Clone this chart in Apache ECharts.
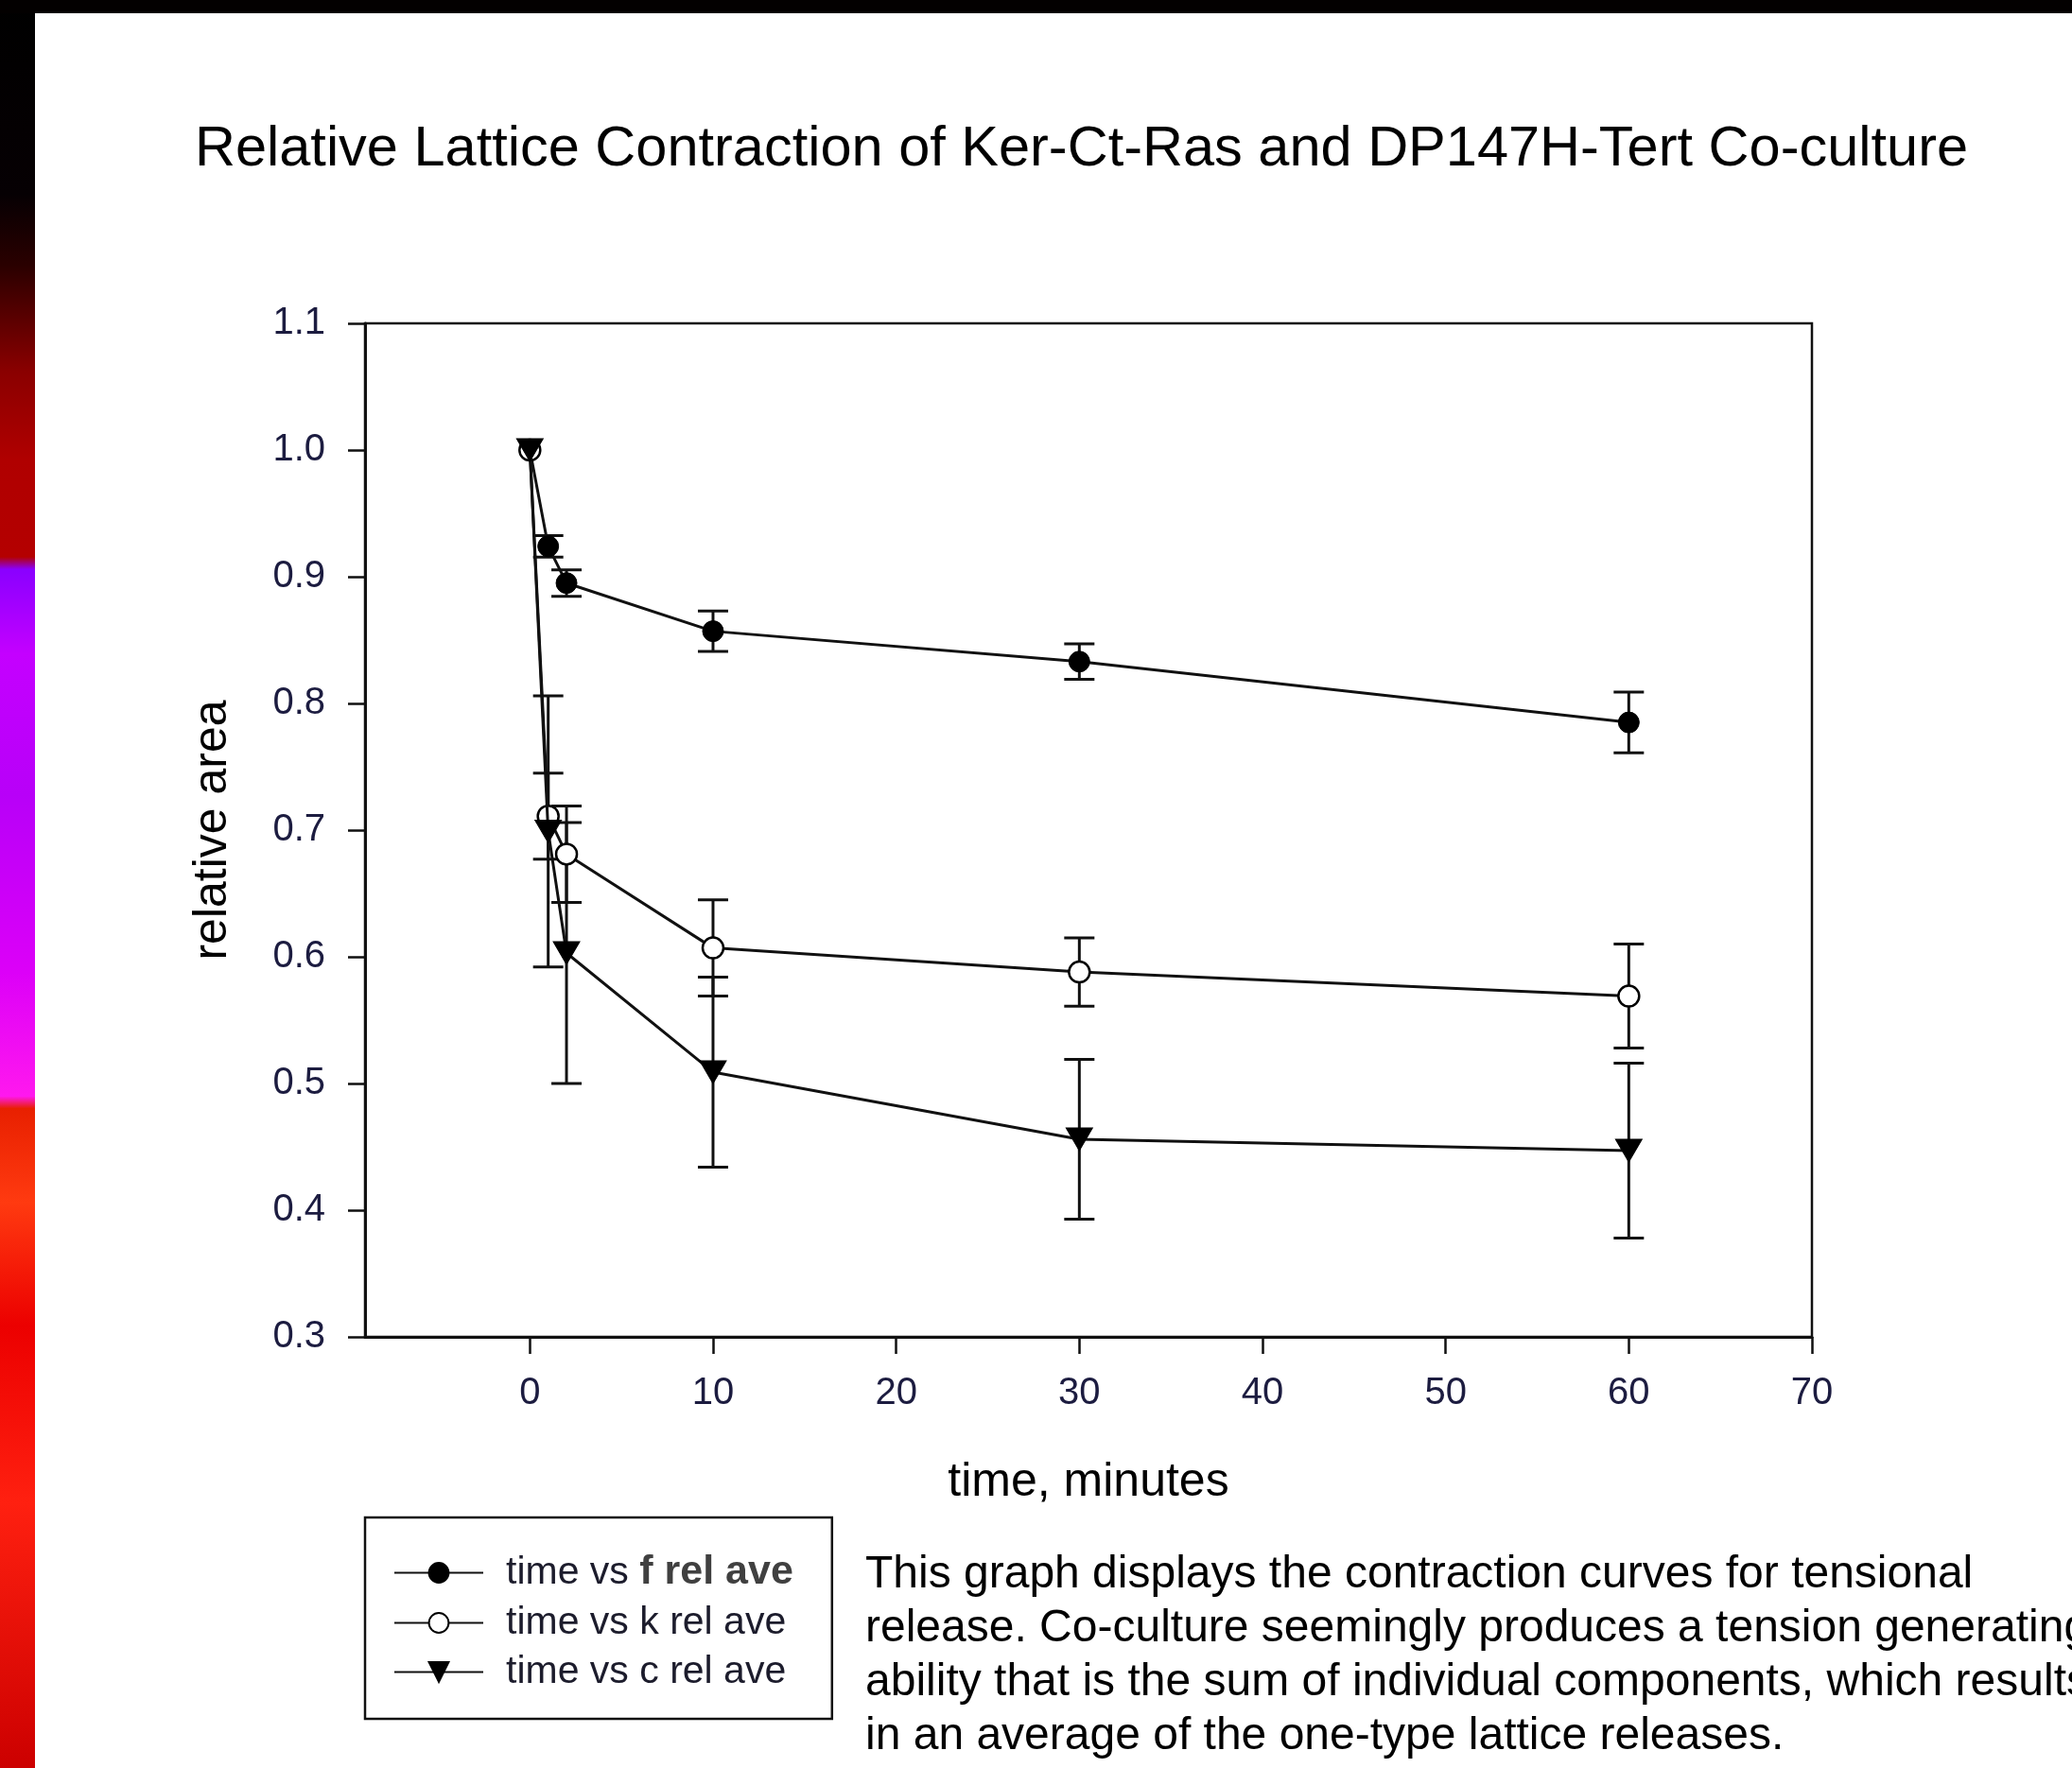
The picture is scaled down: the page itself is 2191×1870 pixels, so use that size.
<!DOCTYPE html>
<html>
<head>
<meta charset="utf-8">
<title>Relative Lattice Contraction</title>
<script src="https://cdn.jsdelivr.net/npm/echarts@6/dist/echarts.min.js"></script>
<style>
  html, body { margin: 0; padding: 0; background: #fff; }
  #chart { width: 2191px; height: 1870px; }
</style>
</head>
<body>
<div id="chart"></div>
<script>
// time in minutes
var times = [0, 1, 2, 10, 30, 60];
// relative area averages and their error (half-length of bar)
var fRel = [1.0, 0.924, 0.895, 0.857, 0.833, 0.785];
var fErr = [0, 0.0085, 0.0105, 0.016, 0.014, 0.024];
var kRel = [1.0, 0.711, 0.681, 0.607, 0.588, 0.569];
var kErr = [0, 0.034, 0.038, 0.038, 0.027, 0.041];
var cRel = [1.0, 0.699, 0.603, 0.509, 0.456, 0.447];
var cErr = [0, 0.107, 0.103, 0.075, 0.063, 0.069];

var xTicks = [0, 10, 20, 30, 40, 50, 60, 70];
var seriesNames = ['time vs f rel ave', 'time vs k rel ave', 'time vs c rel ave'];
var note = 'This graph displays the contraction curves for tensional\n' +
  'release. Co-culture seemingly produces a tension generating\n' +
  'ability that is the sum of individual components, which results\n' +
  'in an average of the one-type lattice releases.';

var FONT = "'Liberation Sans', Arial, sans-serif";
var INK = '#111';
var LW = 3;

function pairs(ys) {
  return times.map(function (t, i) { return [t, ys[i]]; });
}
function bars(ys, errs) {
  var out = [];
  times.forEach(function (t, i) {
    if (errs[i] > 0) out.push([t, ys[i] - errs[i], ys[i] + errs[i]]);
  });
  return out;
}

function renderErr(params, api) {
  var x = api.value(0);
  var top = api.coord([x, api.value(2)]);
  var bot = api.coord([x, api.value(1)]);
  var hw = 16;
  var st = { stroke: INK, lineWidth: LW };
  return {
    type: 'group',
    children: [
      { type: 'line', shape: { x1: top[0], y1: top[1], x2: bot[0], y2: bot[1] }, style: st },
      { type: 'line', shape: { x1: top[0] - hw, y1: top[1], x2: top[0] + hw, y2: top[1] }, style: st },
      { type: 'line', shape: { x1: bot[0] - hw, y1: bot[1], x2: bot[0] + hw, y2: bot[1] }, style: st }
    ]
  };
}

var myChart = echarts.init(document.getElementById('chart'), null, { renderer: 'canvas' });

var option = {
  animation: false,
  backgroundColor: '#fff',
  textStyle: { fontFamily: FONT },
  graphic: [
    {
      type: 'rect', left: 0, top: 0, z: -10,
      shape: { width: 37, height: 1870 },
      style: {
        fill: new echarts.graphic.LinearGradient(0, 0, 0, 1, [
          { offset: 0, color: '#000000' },
          { offset: 0.11, color: '#060003' },
          { offset: 0.15, color: '#2a0000' },
          { offset: 0.21, color: '#8a0000' },
          { offset: 0.26, color: '#b00000' },
          { offset: 0.315, color: '#b40000' },
          { offset: 0.322, color: '#8a00ff' },
          { offset: 0.37, color: '#c400ff' },
          { offset: 0.45, color: '#b800f8' },
          { offset: 0.55, color: '#dc00f8' },
          { offset: 0.62, color: '#ff18ee' },
          { offset: 0.627, color: '#e82000' },
          { offset: 0.68, color: '#ff3a10' },
          { offset: 0.75, color: '#ec0000' },
          { offset: 0.85, color: '#ff2010' },
          { offset: 1, color: '#cc0000' }
        ])
      }
    },
    {
      type: 'rect', left: 0, top: 0, z: -9,
      shape: { width: 2191, height: 14 },
      style: { fill: '#030000' }
    }
  ],
  title: [
    {
      text: 'Relative Lattice Contraction of Ker-Ct-Ras and DP147H-Tert Co-culture',
      left: 206,
      top: 129,
      padding: 0,
      textStyle: { fontFamily: FONT, fontSize: 59.5, fontWeight: 'normal', color: '#000' }
    },
    {
      text: note,
      left: 915,
      top: 1637,
      padding: 0,
      textStyle: { fontFamily: FONT, fontSize: 48, fontWeight: 'normal', color: '#000', lineHeight: 57 }
    }
  ],
  grid: {
    left: 386, right: 275, top: 342, bottom: 456,
    show: true, borderColor: INK, borderWidth: 2.5, backgroundColor: 'transparent'
  },
  legend: {
    orient: 'vertical',
    left: 386,
    top: 1605,
    padding: [37, 41, 29, 30],
    borderColor: INK,
    borderWidth: 2.5,
    itemWidth: 94,
    itemHeight: 26,
    itemGap: 11,
    data: seriesNames,
    formatter: function (name) {
      if (name === seriesNames[0]) return '{a|time vs }{b|f rel ave}';
      return '{a|' + name + '}';
    },
    textStyle: {
      padding: [0, 0, 0, 19],
      rich: {
        a: { fontFamily: FONT, fontSize: 41, color: '#1c1c2c', lineHeight: 30 },
        b: { fontFamily: FONT, fontSize: 43, fontWeight: 'bold', color: '#404040', lineHeight: 30 }
      }
    }
  },
  xAxis: {
    type: 'value',
    min: -9,
    max: 70,
    name: 'time, minutes',
    nameLocation: 'middle',
    nameGap: 129,
    nameTextStyle: { fontFamily: FONT, fontSize: 50, color: '#000' },
    axisLine: { show: true, onZero: false, lineStyle: { color: INK, width: 3 } },
    axisTick: { show: true, length: 18, customValues: xTicks, lineStyle: { color: INK, width: 2.5 } },
    axisLabel: { customValues: xTicks, margin: 40, fontSize: 40, color: '#1c1c40', fontFamily: FONT },
    splitLine: { show: false }
  },
  yAxis: {
    type: 'value',
    min: 0.3,
    max: 1.1,
    interval: 0.1,
    name: 'relative area',
    nameLocation: 'middle',
    nameGap: 136,
    nameTextStyle: { fontFamily: FONT, fontSize: 50, color: '#000' },
    axisLine: { show: true, onZero: false, lineStyle: { color: INK, width: 3 } },
    axisTick: { show: true, length: 18, lineStyle: { color: INK, width: 2.5 } },
    axisLabel: {
      margin: 42, fontSize: 40, color: '#1c1c40', fontFamily: FONT,
      formatter: function (v) { return v.toFixed(1); }
    },
    splitLine: { show: false }
  },
  series: [
    { type: 'custom', name: 'f err', data: bars(fRel, fErr), renderItem: renderErr, z: 1, silent: true },
    { type: 'custom', name: 'k err', data: bars(kRel, kErr), renderItem: renderErr, z: 1, silent: true },
    { type: 'custom', name: 'c err', data: bars(cRel, cErr), renderItem: renderErr, z: 1, silent: true },
    {
      name: seriesNames[0], type: 'line', data: pairs(fRel), z: 3,
      symbol: 'circle', symbolSize: 22,
      lineStyle: { color: INK, width: LW },
      itemStyle: { color: '#000', borderColor: '#000', borderWidth: 1 }
    },
    {
      name: seriesNames[1], type: 'line', data: pairs(kRel), z: 4,
      symbol: 'circle', symbolSize: 22,
      lineStyle: { color: INK, width: LW },
      itemStyle: { color: '#fff', borderColor: '#000', borderWidth: 2.5 }
    },
    {
      name: seriesNames[2], type: 'line', data: pairs(cRel), z: 5,
      symbol: 'triangle', symbolSize: [28, 24], symbolRotate: 180,
      lineStyle: { color: INK, width: LW },
      itemStyle: { color: '#000', borderColor: '#000', borderWidth: 1 }
    }
  ]
};

myChart.setOption(option);
window.addEventListener('resize', myChart.resize);
</script>
</body>
</html>
